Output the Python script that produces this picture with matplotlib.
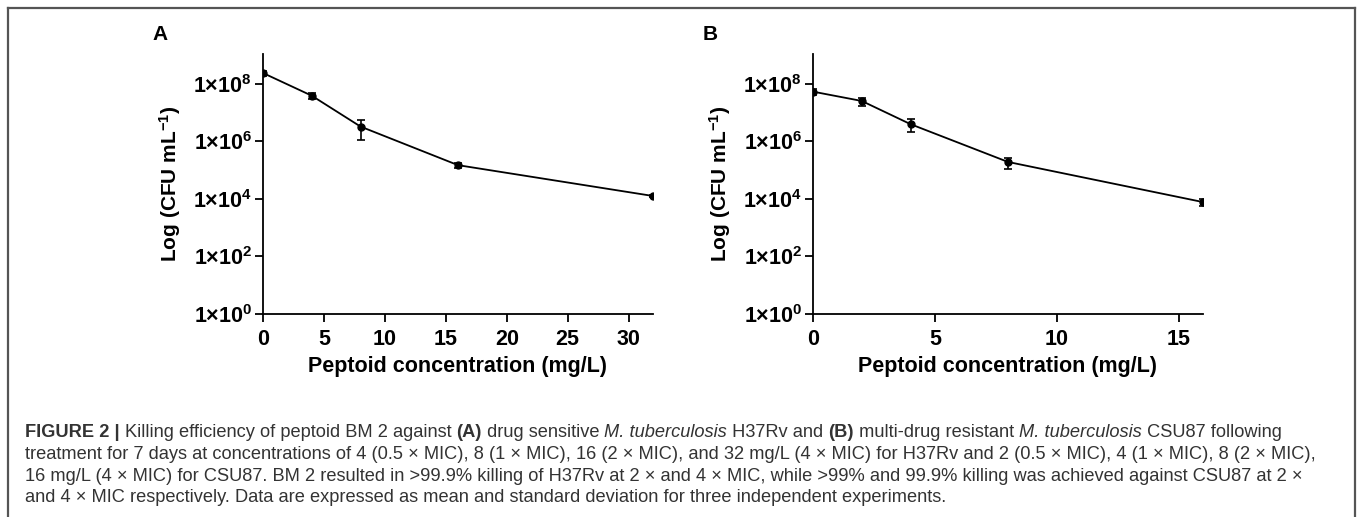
import numpy as np
import matplotlib
matplotlib.use("Agg")
import matplotlib.pyplot as plt
from matplotlib.lines import Line2D

plt.rcParams['font.family'] = ['Liberation Sans', 'DejaVu Sans']
plt.rcParams['mathtext.fontset'] = 'custom'
plt.rcParams['mathtext.rm'] = 'Liberation Sans:bold'
plt.rcParams['mathtext.bf'] = 'Liberation Sans:bold'
plt.rcParams['mathtext.it'] = 'Liberation Sans:bold:italic'

# Данные панели A (H37Rv)
conc_a = [0, 4, 8, 16, 32]
cfu_a = [2.4e8, 3.9e7, 3.3e6, 1.5e5, 1.27e4]
sd_a = [5.0e7, 8.5e6, 2.2e6, 3.5e4, 1.0e3]

# Данные панели B (CSU87)
conc_b = [0, 2, 4, 8, 16]
cfu_b = [5.4e7, 2.56e7, 4.0e6, 1.94e5, 7.8e3]
sd_b = [1.2e7, 8.0e6, 1.9e6, 8.0e4, 2.0e3]

xticks_a = [0, 5, 10, 15, 20, 25, 30]
xticks_b = [0, 5, 10, 15]
yticks = [1e0, 1e2, 1e4, 1e6, 1e8]
ytick_labels = [r'$1{\times}10^{%d}$' % int(np.log10(v)) for v in yticks]

W, H = 1357, 517
fig = plt.figure(figsize=(W / 100, H / 100), dpi=100)


def fx(px):
    return px / W


def fy(py):
    return 1 - py / H


# Рамка вокруг рисунка (снизу открыта)
frame_kw = dict(color='#555555', linewidth=1.6, transform=fig.transFigure)
fig.add_artist(Line2D([fx(8), fx(1355)], [fy(8), fy(8)], **frame_kw))
fig.add_artist(Line2D([fx(8), fx(8)], [fy(8), 0], **frame_kw))
fig.add_artist(Line2D([fx(1355), fx(1355)], [fy(8), 0], **frame_kw))


def draw_panel(left_px, x, y, err, xticks, xmax, letter):
    ax = fig.add_axes([fx(left_px), fy(314), fx(390), 260 / H])
    ax.errorbar(x, y, yerr=err, color='black', linewidth=1.3, marker='o',
                markersize=5, capsize=3, elinewidth=1.2, capthick=1.2)
    ax.set_yscale('log')
    ax.set_ylim(1, 1.1e9)
    ax.set_xlim(0, xmax)
    ax.set_yticks(yticks)
    ax.set_yticklabels(ytick_labels)
    ax.minorticks_off()
    ax.set_xticks(xticks)
    ax.set_xticklabels([str(t) for t in xticks], fontweight='bold')
    for s in ['top', 'right']:
        ax.spines[s].set_visible(False)
    for s in ['left', 'bottom']:
        ax.spines[s].set_linewidth(1.3)
    ax.tick_params(axis='both', direction='out', length=6, width=1.3,
                   labelsize=15.5)
    ax.tick_params(axis='x', pad=5)
    ax.tick_params(axis='y', pad=2)
    ax.set_xlabel('Peptoid concentration (mg/L)', fontsize=15.5,
                  fontweight='bold', labelpad=4)
    ax.set_ylabel(r'Log (CFU mL$^{\mathbf{-1}}$)', fontsize=15,
                  fontweight='bold', labelpad=7)
    fig.text(fx(left_px - 103), fy(35), letter, fontsize=15,
             fontweight='bold', ha='center', va='center')
    return ax


draw_panel(263, conc_a, cfu_a, sd_a, xticks_a, 32, 'A')
draw_panel(813, conc_b, cfu_b, sd_b, xticks_b, 16, 'B')

# Подпись к рисунку
cap_color = '#333333'
lines = [
    [("FIGURE 2 | ", 'bold', 'normal'),
     ("Killing efficiency of peptoid BM 2 against ", 'normal', 'normal'),
     ("(A)", 'bold', 'normal'),
     (" drug sensitive ", 'normal', 'normal'),
     ("M. tuberculosis", 'normal', 'italic'),
     (" H37Rv and ", 'normal', 'normal'),
     ("(B)", 'bold', 'normal'),
     (" multi-drug resistant ", 'normal', 'normal'),
     ("M. tuberculosis", 'normal', 'italic'),
     (" CSU87 following", 'normal', 'normal')],
    [("treatment for 7 days at concentrations of 4 (0.5 \u00d7 MIC), 8 (1 \u00d7 MIC), "
      "16 (2 \u00d7 MIC), and 32 mg/L (4 \u00d7 MIC) for H37Rv and 2 (0.5 \u00d7 MIC), "
      "4 (1 \u00d7 MIC), 8 (2 \u00d7 MIC),", 'normal', 'normal')],
    [("16 mg/L (4 \u00d7 MIC) for CSU87. BM 2 resulted in >99.9% killing of H37Rv "
      "at 2 \u00d7 and 4 \u00d7 MIC, while >99% and 99.9% killing was achieved "
      "against CSU87 at 2 \u00d7", 'normal', 'normal')],
    [("and 4 \u00d7 MIC respectively. Data are expressed as mean and standard "
      "deviation for three independent experiments.", 'normal', 'normal')],
]
baselines = [437, 459, 481, 502]

renderer = fig.canvas.get_renderer()
# подбираем размер шрифта по ширине второй строки
probe = fig.text(0, 0, lines[1][0][0], fontsize=10)
w10 = probe.get_window_extent(renderer).width
probe.remove()
cap_size = 10 * 1290 / w10

for segs, base in zip(lines, baselines):
    xpos = 25
    for txt, weight, style in segs:
        t = fig.text(fx(xpos), fy(base), txt, fontsize=cap_size,
                     fontweight=weight, fontstyle=style, color=cap_color,
                     ha='left', va='baseline')
        xpos += t.get_window_extent(renderer).width

fig.savefig('out.png', dpi=100)
